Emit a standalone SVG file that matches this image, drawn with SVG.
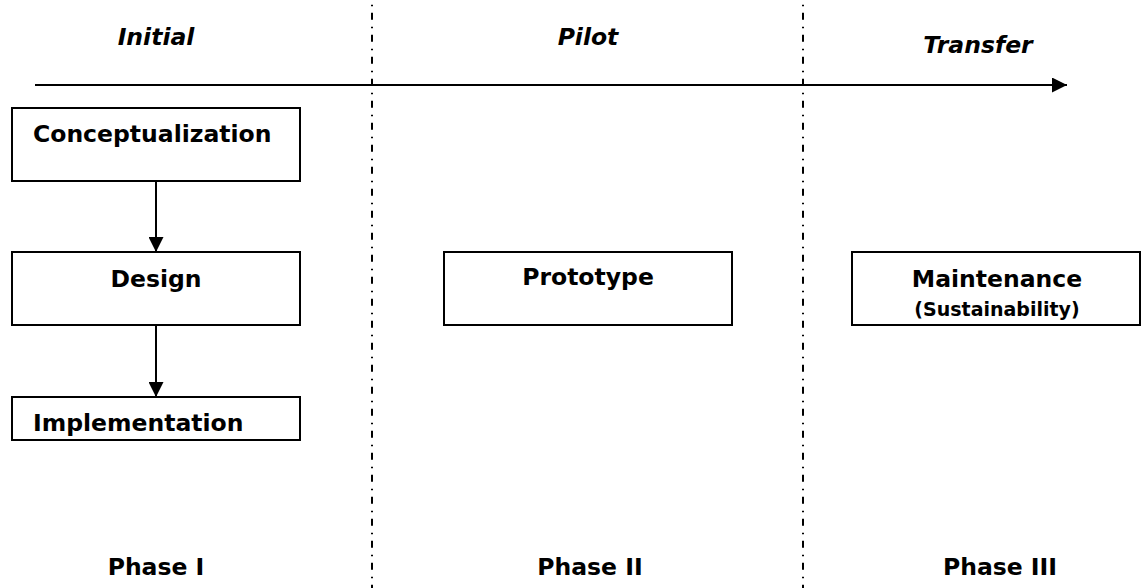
<svg xmlns="http://www.w3.org/2000/svg" width="1141" height="588" viewBox="0 0 1141 588">
  <style>
    .lbl { font-family: "DejaVu Sans", Verdana, sans-serif; font-weight: bold; font-size: 23.5px; fill: #000; }
    .hdr { font-style: italic; }
    .small { font-size: 19px; }
    .box { fill: #fff; stroke: #000; stroke-width: 2; }
    .wire { stroke: #000; stroke-width: 2; fill: none; }
    .divider { stroke: #000; stroke-width: 2; stroke-dasharray: 7 7 1.5 6.5; fill: none; }
  </style>
  <defs>
    <marker id="head" viewBox="0 0 15 15" refX="15" refY="7.5" markerWidth="15" markerHeight="15" markerUnits="userSpaceOnUse" orient="auto">
      <path d="M0,0 L15,7.5 L0,15 Z" fill="#000"/>
    </marker>
    <clipPath id="maintClip">
      <rect x="853" y="253" width="286" height="68"/>
    </clipPath>
  </defs>
  <rect width="1141" height="588" fill="#fff"/>

  <!-- phase dividers -->
  <g id="dividers">
    <line class="divider" x1="372" y1="-9.3" x2="372" y2="600"/>
    <line class="divider" x1="803" y1="-9.3" x2="803" y2="600"/>
  </g>

  <!-- stage headings -->
  <g id="headings">
    <text class="lbl hdr" x="156" y="45" text-anchor="middle">Initial</text>
    <text class="lbl hdr" x="588" y="45" text-anchor="middle">Pilot</text>
    <text class="lbl hdr" x="978" y="53" text-anchor="middle">Transfer</text>
  </g>

  <!-- connectors -->
  <g id="connectors">
    <line class="wire" x1="35" y1="85" x2="1067" y2="85" marker-end="url(#head)"/>
    <line class="wire" x1="156" y1="181" x2="156" y2="252" marker-end="url(#head)"/>
    <line class="wire" x1="156" y1="325" x2="156" y2="397" marker-end="url(#head)"/>
  </g>

  <g id="conceptualization">
    <rect class="box" x="12" y="108" width="288" height="73"/>
    <text class="lbl" x="33" y="142">Conceptualization</text>
  </g>

  <g id="design">
    <rect class="box" x="12" y="252" width="288" height="73"/>
    <text class="lbl" x="156" y="287" text-anchor="middle">Design</text>
  </g>

  <g id="implementation">
    <rect class="box" x="12" y="397" width="288" height="43"/>
    <text class="lbl" x="33" y="431">Implementation</text>
  </g>

  <g id="prototype">
    <rect class="box" x="444" y="252" width="288" height="73"/>
    <text class="lbl" x="588" y="285" text-anchor="middle">Prototype</text>
  </g>

  <g id="maintenance">
    <rect class="box" x="852" y="252" width="288" height="73"/>
    <g clip-path="url(#maintClip)">
      <text class="lbl" x="997" y="287" text-anchor="middle">Maintenance</text>
      <text class="lbl small" x="997" y="316" text-anchor="middle">(Sustainability)</text>
    </g>
  </g>

  <!-- phase names -->
  <g id="phases">
    <text class="lbl" x="156" y="575" text-anchor="middle">Phase I</text>
    <text class="lbl" x="590" y="575" text-anchor="middle">Phase II</text>
    <text class="lbl" x="1000" y="575" text-anchor="middle">Phase III</text>
  </g>
</svg>
